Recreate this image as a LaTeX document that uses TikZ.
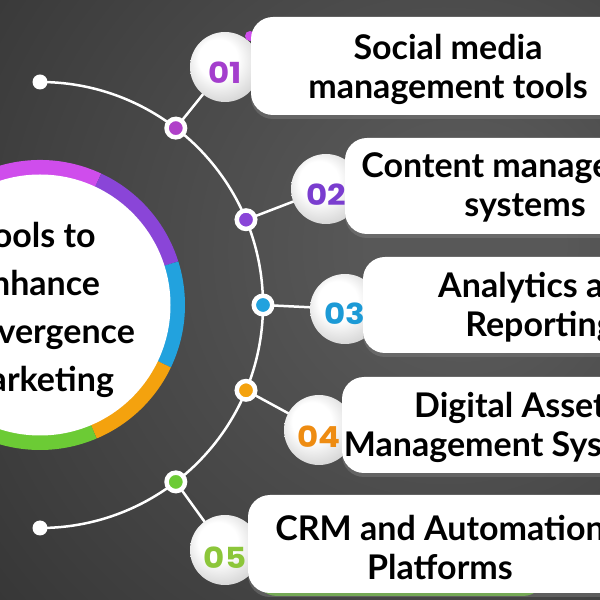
\documentclass[tikz,border=0pt]{standalone}
\usepackage{fontspec}
\setmainfont{Lato}
\newfontfamily\numfont{Poppins}[FakeStretch=1.12]
\usetikzlibrary{shadows}
\definecolor{bgdark}{HTML}{333333}
\definecolor{bglight}{HTML}{585858}
\definecolor{cmag}{HTML}{CF4DEC}
\definecolor{cvio}{HTML}{8A45D8}
\definecolor{cblue}{HTML}{22A2DE}
\definecolor{corange}{HTML}{F4A20E}
\definecolor{cgreen}{HTML}{6CCB35}
\definecolor{npurple}{HTML}{A43ECD}
\definecolor{nvio}{HTML}{7A3DCF}
\definecolor{nblue}{HTML}{1C9AD6}
\definecolor{norange}{HTML}{EE8C12}
\definecolor{ngreen}{HTML}{8CC63A}
\pgfdeclareradialshading{bgshade}{\pgfpoint{15bp}{5bp}}{color(0bp)=(bglight);color(8bp)=(bglight);color(48bp)=(bgdark);color(100bp)=(bgdark)}
\pgfdeclareradialshading{ballshade}{\pgfpoint{-7bp}{8bp}}{color(0bp)=(white);color(14bp)=(white);color(30bp)=(black!17);color(50bp)=(black!20)}
\tikzset{
  numball/.style={circle,minimum size=70pt,inner sep=0pt,shading=ballshade},
  txtbox/.style={fill=white,rounded corners=22pt,drop shadow={shadow xshift=0pt,shadow yshift=-4pt,opacity=.45}},
  boxtext/.style={font=\fontsize{34}{39}\selectfont\bfseries,align=center},
  hubtext/.style={font=\fontsize{34}{48}\selectfont\bfseries,align=center},
  numtext/.style={font=\numfont\fontsize{29}{29}\selectfont\bfseries},
  dotring/.style={circle,draw=white,line width=4.5pt,minimum size=18.5pt,inner sep=0pt},
  enddot/.style={circle,fill=white,minimum size=15pt,inner sep=0pt},
}
\begin{document}
\begin{tikzpicture}[x=1pt,y=1pt]
\clip (0,0) rectangle (600,600);
\shade[shading=bgshade] (0,0) rectangle (600,600);
\coordinate (o) at (40,295);

% hub
\draw[cmag,line width=15pt] ([shift={(65:137.5)}]o) arc[start angle=65,end angle=190,radius=137.5];
\draw[cvio,line width=15pt] ([shift={(17.5:137.5)}]o) arc[start angle=17.5,end angle=65,radius=137.5];
\draw[cblue,line width=15pt] ([shift={(-25.5:137.5)}]o) arc[start angle=-25.5,end angle=17.5,radius=137.5];
\draw[corange,line width=15pt] ([shift={(-67:137.5)}]o) arc[start angle=-67,end angle=-25.5,radius=137.5];
\draw[cgreen,line width=15pt] ([shift={(-170:137.5)}]o) arc[start angle=-170,end angle=-67,radius=137.5];
\fill[white] (o) circle[radius=130.5];
\node[hubtext] (hub) at (36,290) {Tools to\\Enhance\\Convergence\\Marketing};

% arc and links
\coordinate (top) at (40,518);
\coordinate (bot) at (40,72);
\draw[white,line width=2.5pt] (top) arc[start angle=90,end angle=-90,radius=223];
\coordinate (d1) at (175.8,471.9);
\coordinate (d2) at (246,380.3);
\coordinate (d3) at (263,295);
\coordinate (d4) at (246,209.7);
\coordinate (d5) at (175.8,118.1);
\coordinate (c1) at (225,533);
\coordinate (c2) at (326,411);
\coordinate (c3) at (345,291);
\coordinate (c4) at (319,170);
\coordinate (c5) at (225,50);
\draw[white,line width=2.5pt] (d1)--(c1) (d2)--(c2) (d3)--(c3) (d4)--(c4) (d5)--(c5);

% number balls
\node[numball] (n1) at (c1) {};
\node[numball] (n2) at (c2) {};
\node[numball] (n3) at (c3) {};
\node[numball] (n4) at (c4) {};
\node[numball] (n5) at (c5) {};

% boxes
\fill[cmag] (250,564) circle[radius=5];
\fill[cgreen,rounded corners=22pt] (255,4) rectangle (545,100);
\fill[txtbox] (251,485) rectangle (700,583);
\fill[txtbox] (345,366) rectangle (700,462);
\fill[txtbox] (363,247) rectangle (700,343);
\fill[txtbox] (342,127) rectangle (700,223);
\fill[txtbox] (248,7) rectangle (700,105);
\node[boxtext] (b1) at (448,531) {Social media\\management tools};
\node[boxtext] (b2) at (525,413) {Content management\\systems};
\node[boxtext] (b3) at (540,293) {Analytics and\\Reporting};
\node[boxtext] (b4) at (510,173) {Digital Asset\\Management Systems};
\node[boxtext] (b5) at (440,53) {CRM and Automation\\Platforms};

% numbers
\node[numtext,text=npurple] (t1) at ([yshift=-6pt]n1.center) {01};
\node[numtext,text=nvio] (t2) at ([yshift=-6pt]n2.center) {02};
\node[numtext,text=nblue] (t3) at ([yshift=-5pt]n3.center) {03};
\node[numtext,text=norange] (t4) at ([yshift=-7pt]n4.center) {04};
\node[numtext,text=ngreen] (t5) at ([yshift=-8pt]n5.center) {05};

% dots
\node[enddot] (e1) at (top) {};
\node[enddot] (e2) at (bot) {};
\node[dotring,fill=cmag!85!black] (p1) at (d1) {};
\node[dotring,fill=cvio] (p2) at (d2) {};
\node[dotring,fill=cblue] (p3) at (d3) {};
\node[dotring,fill=corange] (p4) at (d4) {};
\node[dotring,fill=cgreen] (p5) at (d5) {};
\end{tikzpicture}
\end{document}
